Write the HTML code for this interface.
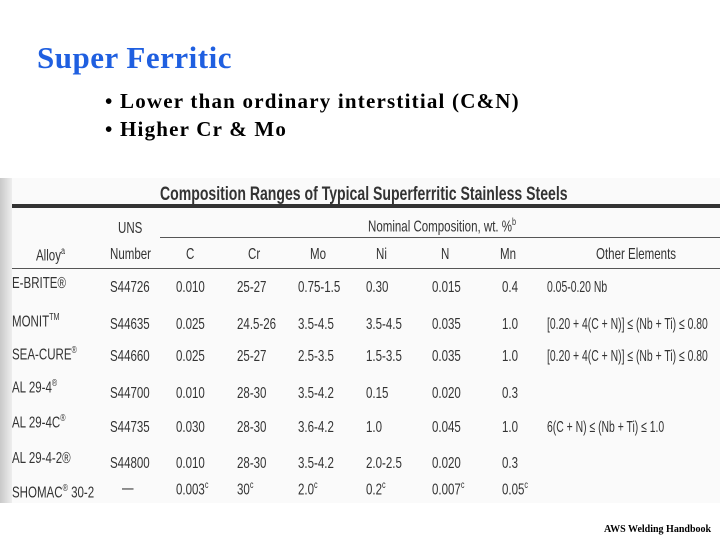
<!DOCTYPE html>
<html><head><meta charset="utf-8"><style>
body{margin:0;width:720px;height:540px;background:#fff;position:relative;overflow:hidden;font-family:"Liberation Serif",serif}
.a{position:absolute;white-space:nowrap}
.t{font-family:"Liberation Sans",sans-serif;font-size:16px;color:#333;transform:scaleX(.72);transform-origin:left center}
sup{font-size:10px}
</style></head><body>
<div class="a" style="left:37px;top:40px;font-size:31px;font-weight:bold;color:#1f5fe0;letter-spacing:.5px">Super Ferritic</div>
<div class="a" style="left:105px;top:89px;font-size:21px;font-weight:bold;letter-spacing:1.2px">• Lower than ordinary interstitial (C&amp;N)</div>
<div class="a" style="left:105px;top:117px;font-size:21px;font-weight:bold;letter-spacing:1.2px">• Higher Cr &amp; Mo</div>
<div class="a" style="left:0;top:178px;width:720px;height:325px;background:#fafafa">
<div class="a" style="left:0;top:0;width:12px;height:325px;background:linear-gradient(90deg,#c8c8c8,#eee)"></div>
<div class="a" style="left:12px;top:26px;width:708px;height:4px;background:#333"></div>
<div class="a" style="left:160px;top:59px;width:560px;height:1px;background:#555"></div>
<div class="a" style="left:12px;top:90px;width:708px;height:1px;background:#555"></div>
</div>
<div id="tb"></div>
<div class="a" style="left:604px;top:524px;font-size:10px;font-weight:bold">AWS Welding Handbook</div>
<script>
const cols=[12,110,176,237,298,366,432,502,547];
const rows=[
["E-BRITE®","S44726","0.010","25-27","0.75-1.5","0.30","0.015","0.4","0.05-0.20 Nb"],
["MONIT<sup>TM</sup>","S44635","0.025","24.5-26","3.5-4.5","3.5-4.5","0.035","1.0","[0.20 + 4(C + N)] ≤ (Nb + Ti) ≤ 0.80"],
["SEA-CURE<sup>®</sup>","S44660","0.025","25-27","2.5-3.5","1.5-3.5","0.035","1.0","[0.20 + 4(C + N)] ≤ (Nb + Ti) ≤ 0.80"],
["AL 29-4<sup>®</sup>","S44700","0.010","28-30","3.5-4.2","0.15","0.020","0.3",""],
["AL 29-4C<sup>®</sup>","S44735","0.030","28-30","3.6-4.2","1.0","0.045","1.0","6(C + N) ≤ (Nb + Ti) ≤ 1.0"],
["AL 29-4-2®","S44800","0.010","28-30","3.5-4.2","2.0-2.5","0.020","0.3",""],
["SHOMAC<sup>®</sup> 30-2","—","0.003<sup>c</sup>","30<sup>c</sup>","2.0<sup>c</sup>","0.2<sup>c</sup>","0.007<sup>c</sup>","0.05<sup>c</sup>",""]];
const ay=[285,322,355,388,423,460,493], vy=[289,326,358,395,429,465,490];
const tb=document.getElementById('tb');
function put(x,y,h,name,sz,w,sc){const d=document.createElement('div');d.className='a t';d.style.left=x+'px';d.style.top=(y-10)+'px';if(sz)d.style.fontSize=sz+'px';if(w)d.style.fontWeight=w;if(sc)d.style.transform='scaleX('+sc+')';d.innerHTML=h;


tb.appendChild(d);}
put(160,194,"Composition Ranges of Typical Superferritic Stainless Steels","table-title",19,"bold",.74);
put(118,230,"UNS","header-uns");put(368,227,"Nominal Composition, wt. %<sup>b</sup>","header-nominal");
const hd=["Alloy<sup>a</sup>","Number","C","Cr","Mo","Ni","N","Mn","Other Elements"],hx=[36,110,186,248,310,376,441,500,596];
hd.forEach((h,i)=>put(hx[i],256,h,"header-col"));
rows.forEach((r,i)=>r.forEach((c,j)=>put(j==1&&c=="—"?122:cols[j],j==0?ay[i]:vy[i],c,"cell",null,null,j==8?.65:null)));
</script>
</body></html>
